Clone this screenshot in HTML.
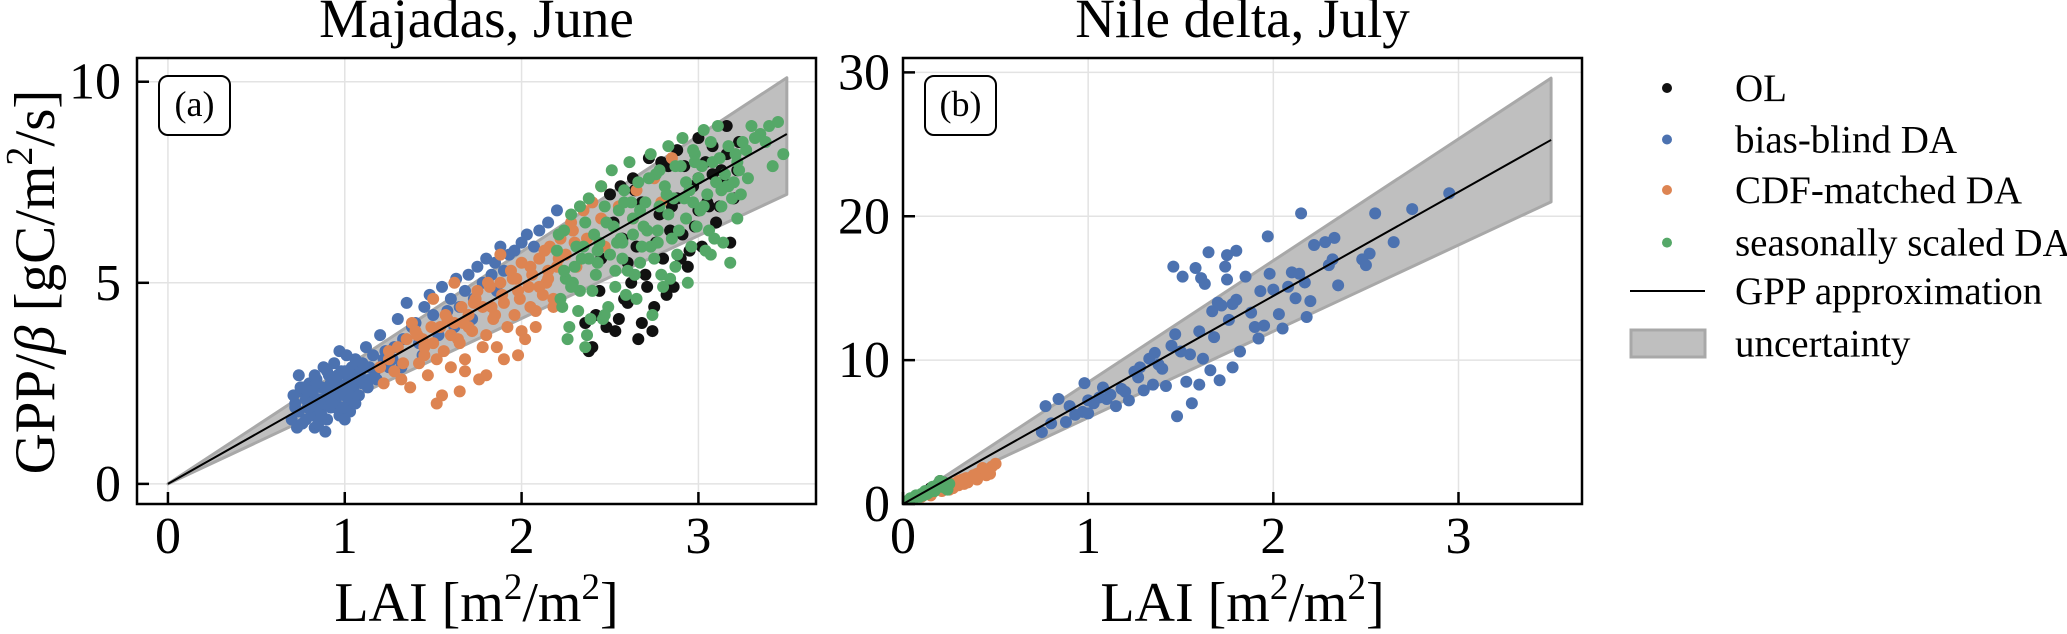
<!DOCTYPE html>
<html><head><meta charset="utf-8"><style>
html,body{margin:0;padding:0;background:#fff;}
svg{display:block;font-family:"Liberation Serif",serif;}
</style></head><body>
<svg id="fig" width="2067" height="634" viewBox="0 0 2067 634" xmlns="http://www.w3.org/2000/svg"></svg>
<script>
// ---- Data: panel (a) Majadas, June ----
const aBlueX=[0.70,0.72,0.74,0.75,0.76,0.78,0.79,0.80,0.81,0.82,0.83,0.84,0.85,0.86,0.87,0.88,0.89,0.90,0.91,0.92,0.93,0.94,0.95,0.96,0.97,0.98,0.99,1.00,1.01,1.02,1.03,1.04,1.05,1.06,1.08,1.10,
0.71,0.73,0.77,0.80,0.83,0.85,0.88,0.90,0.92,0.95,0.97,1.00,1.02,1.05,1.07,1.09,1.12,1.14,1.16,1.18,1.20,1.22,1.25,
1.28,1.30,1.33,1.35,1.38,1.40,1.42,1.45,1.48,1.50,1.53,1.55,1.58,1.60,1.63,1.65,1.68,1.70,1.73,1.75,1.78,1.80,1.83,1.85,1.88,1.90,1.93,1.96,2.00,2.03,2.07,2.10,2.15,2.20,1.32,1.44,1.62,1.72,1.86,
0.72,0.75,0.78,0.81,0.84,0.87,0.90,0.93,0.96,0.99,1.02,1.05,1.08,1.11,1.14,0.74,0.79,0.86,0.91,0.98,1.04,1.10,1.17,1.23,1.27,0.82,0.94,1.00,1.06,1.13];
const aBlueY=[1.6,2.0,1.8,2.3,1.5,2.1,1.9,2.5,1.7,2.2,1.4,2.6,2.0,1.8,2.4,2.9,1.3,2.2,2.7,1.9,2.3,3.0,2.1,2.5,1.7,2.8,2.4,2.2,3.2,2.6,1.8,2.9,2.4,3.1,2.7,2.5,
2.2,1.4,2.4,1.9,2.7,1.5,2.0,1.6,2.5,1.9,3.3,1.6,2.0,2.2,3.0,2.8,3.4,2.9,3.2,2.6,3.7,3.1,2.9,
3.4,4.1,3.6,4.5,3.9,4.0,3.5,4.4,4.7,4.2,3.7,4.9,4.3,4.6,5.1,4.4,4.8,5.2,4.6,5.4,5.0,5.6,5.2,5.5,5.9,5.3,5.7,5.8,6.0,6.2,5.9,6.3,6.5,6.8,2.9,3.2,3.9,4.1,4.8,
1.9,2.4,1.6,2.0,2.5,1.7,2.8,2.0,2.7,1.9,2.4,2.6,2.2,2.9,2.6,2.7,2.3,2.1,2.4,2.3,2.7,3.0,2.8,3.3,3.1,2.3,2.6,2.8,2.0,2.4];
const aOrangeX=[1.20,1.22,1.25,1.28,1.30,1.32,1.35,1.37,1.40,1.42,1.45,1.47,1.50,1.52,1.54,1.56,1.58,1.60,1.62,1.64,1.66,1.68,1.70,1.72,1.74,1.76,1.78,1.80,1.82,1.84,1.86,1.88,1.90,1.92,1.94,1.96,1.98,2.00,2.02,2.04,2.06,2.08,2.10,2.12,2.14,2.16,2.18,2.20,2.22,2.25,2.28,2.30,2.35,2.40,2.45,1.50,1.55,1.60,1.65,1.70,1.75,1.80,1.85,1.90,1.95,2.00,2.05,2.10,2.15,1.45,1.62,1.78,1.88,1.98,2.08,2.18,1.38,1.68,
1.25,1.33,1.41,1.49,1.57,1.65,1.73,1.81,1.89,1.97,2.05,2.13,2.21,2.29,2.37,2.45,2.55,2.65,2.75,2.85,1.52,1.67,1.83,1.99,2.15,2.31,2.47,2.63,2.79,1.44];
const aOrangeY=[2.9,2.5,3.1,2.8,3.4,2.6,3.6,2.4,3.8,3.0,3.2,2.7,3.5,2.0,3.9,3.3,4.1,2.9,4.0,3.6,4.4,3.1,4.2,3.8,4.6,2.6,4.4,3.7,4.9,4.1,3.4,5.0,4.5,3.9,5.3,4.2,4.8,5.5,3.6,4.9,5.2,4.3,5.6,4.7,5.0,5.9,4.4,5.4,6.1,5.7,6.5,6.0,6.8,7.0,7.4,4.6,2.2,3.7,2.3,3.9,4.8,2.7,4.2,3.1,5.1,3.8,4.4,4.9,5.3,3.4,5.0,3.4,5.7,3.2,3.9,4.6,4.0,2.8,
3.3,3.0,3.7,3.9,4.2,3.5,4.5,5.0,4.7,5.1,5.4,5.8,5.6,6.3,6.1,6.6,6.9,7.3,7.6,8.1,3.1,4.0,4.4,4.6,5.1,5.4,5.9,6.6,7.0,3.6];
const aGreenX=[2.20,2.22,2.24,2.25,2.27,2.28,2.30,2.32,2.33,2.35,2.36,2.38,2.40,2.41,2.43,2.45,2.46,2.48,2.50,2.51,2.53,2.55,2.56,2.58,2.60,2.61,2.63,2.65,2.66,2.68,2.70,2.71,2.73,2.75,2.76,2.78,2.80,2.81,2.83,2.85,2.86,2.88,2.90,2.91,2.93,2.95,2.96,2.98,3.00,3.01,3.03,3.05,3.06,3.08,3.10,3.11,3.13,3.15,3.17,3.19,3.21,3.23,3.25,3.28,3.30,3.35,3.40,3.45,3.48,
2.23,2.29,2.34,2.39,2.44,2.49,2.54,2.59,2.64,2.69,2.74,2.79,2.84,2.89,2.94,2.99,3.04,3.09,3.14,3.18,3.24,
2.26,2.37,2.47,2.57,2.67,2.77,2.87,2.97,3.07,3.16,3.22,
2.21,2.24,2.31,2.36,2.42,2.47,2.52,2.57,2.62,2.67,2.72,2.77,2.82,2.87,2.92,2.97,3.02,3.07,3.12,3.17,3.22,3.27,3.32,2.33,2.43,2.53,2.63,2.73,2.83,2.93,3.03,3.13,2.28,2.38,2.58,2.78,2.98,3.20,3.38,3.42];
const aGreenY=[5.8,4.6,6.3,5.1,3.9,6.7,5.4,4.3,6.9,5.9,3.4,7.1,4.8,6.2,5.5,7.4,4.1,6.5,5.7,7.8,4.9,6.8,6.1,7.3,5.3,8.0,6.6,4.6,7.5,5.9,7.0,6.3,8.2,5.6,7.7,6.9,4.9,7.4,8.4,6.1,7.1,5.7,7.9,8.6,6.6,7.3,5.9,8.2,7.6,6.8,8.8,7.2,6.3,8.0,7.5,8.9,6.9,7.7,8.4,7.1,8.2,7.8,8.5,7.6,8.9,8.7,8.9,9.0,8.2,
4.4,5.0,5.6,4.1,6.0,4.4,6.0,4.7,5.2,6.4,4.2,5.2,5.1,6.3,5.0,6.4,5.8,6.1,6.0,5.5,7.2,
3.6,3.7,4.2,6.0,5.5,6.0,5.4,7.0,5.7,7.4,6.6,
6.2,5.3,5.9,6.5,5.2,6.9,6.4,5.6,7.0,6.8,7.6,6.3,7.2,7.9,7.1,8.3,7.9,8.5,8.1,7.4,8.0,8.3,8.6,4.8,5.8,5.3,6.2,5.9,6.7,7.5,6.9,7.3,4.9,5.6,7.0,7.8,8.0,7.5,8.5,7.9];
const aBlackX=[2.38,2.42,2.45,2.50,2.53,2.57,2.60,2.63,2.66,2.70,2.72,2.75,2.78,2.80,2.83,2.86,2.88,2.91,2.94,2.97,3.00,3.02,3.05,3.08,3.10,3.13,3.16,3.20,3.23,2.48,2.55,2.62,2.68,2.74,2.82,2.90,2.98,3.06,3.14,2.40,2.65,2.85,3.00,3.18,2.58,
2.52,2.60,2.68,2.76,2.84,2.92,3.00,3.08,3.16,2.44,2.56,2.71,2.79,2.95,3.04,3.12,3.22,2.64,2.88,2.36];
const aBlackY=[3.3,4.2,5.6,7.2,3.8,6.1,4.5,7.6,3.6,5.2,8.1,4.4,6.7,5.6,7.9,4.9,8.3,6.2,5.4,7.4,8.6,5.9,7.0,8.4,6.5,7.8,8.9,7.1,8.5,3.9,4.1,5.0,4.0,3.8,4.7,5.6,6.4,6.9,7.5,3.4,5.9,6.9,7.6,6.0,4.6,
6.5,5.5,7.0,6.0,6.3,7.9,6.8,7.7,8.2,4.8,7.4,4.9,8.0,5.8,8.0,6.9,7.8,7.3,7.1,4.0];
const aSlope=2.486, aUpperEnd=10.1, aLowerEnd=7.2;
// ---- Data: panel (b) Nile delta, July ----
const bBlueX=[0.75,0.77,0.80,0.84,0.88,0.90,0.93,0.97,0.98,1.00,1.00,1.03,1.06,1.08,1.10,1.12,1.15,1.18,1.20,1.22,1.25,1.27,1.28,1.30,1.33,1.35,1.36,1.38,1.40,1.42,1.45,1.47,1.48,1.46,1.50,1.51,1.53,1.55,1.56,1.58,1.60,1.60,1.61,1.62,1.63,1.65,1.66,1.67,1.68,1.70,1.71,1.72,1.74,1.75,1.75,1.76,1.78,1.78,1.80,1.80,1.82,1.85,1.88,1.90,1.92,1.93,1.95,1.97,1.98,2.00,2.03,2.05,2.08,2.10,2.12,2.14,2.15,2.17,2.18,2.20,2.22,2.28,2.30,2.32,2.33,2.35,2.48,2.50,2.52,2.55,2.65,2.75,2.95];
const bBlueY=[5.0,6.8,5.6,7.3,5.7,6.8,6.2,6.4,8.4,6.3,7.2,7.0,7.4,8.1,7.3,7.6,6.8,8.0,7.8,7.2,9.2,8.8,9.5,7.9,10.1,8.3,10.5,9.7,9.4,8.2,11.0,11.8,6.1,16.5,10.6,15.8,8.5,10.4,7.0,16.4,8.3,12.0,15.7,10.1,15.3,17.5,9.3,13.4,11.6,14.0,8.6,13.8,16.5,17.3,15.6,12.8,9.5,13.9,17.6,14.2,10.6,15.8,13.3,12.3,11.5,14.8,12.4,18.6,16.0,14.9,13.2,12.2,15.1,16.1,14.3,16.0,20.2,15.4,13.0,14.1,18.0,18.2,16.6,17.0,18.5,15.2,17.0,16.6,17.4,20.2,18.2,20.5,21.6];
const bOrangeX=[0.10,0.13,0.16,0.18,0.20,0.22,0.24,0.26,0.28,0.30,0.32,0.34,0.36,0.38,0.40,0.42,0.44,0.46,0.48,0.50,0.25,0.30,0.35,0.40,0.45,0.15,0.21,0.27,0.33,0.39,0.43,0.47];
const bOrangeY=[0.5,0.7,0.8,1.0,1.0,1.1,1.3,1.4,1.4,1.6,1.7,1.8,1.8,2.0,2.1,2.2,2.3,2.4,2.6,2.8,1.0,1.3,1.5,1.7,2.0,0.6,0.9,1.1,1.4,1.9,2.5,2.1];
const bGreenX=[0.02,0.04,0.05,0.07,0.08,0.10,0.11,0.12,0.14,0.15,0.16,0.18,0.19,0.20,0.21,0.22,0.23,0.25,0.06,0.09,0.13,0.17,0.20,0.24];
const bGreenY=[0.2,0.4,0.3,0.6,0.5,0.7,0.6,0.9,0.8,1.0,1.2,1.1,1.4,1.3,1.2,1.5,1.1,1.4,0.4,0.5,0.7,0.9,1.6,1.0];
const bBlackX=[0.20,0.22,0.15];
const bBlackY=[1.6,1.5,1.1];
const bSlope=7.23, bUpperEnd=29.6, bLowerEnd=21.0;
const xTicks=[0,1,2,3];
const aYTicks=[0,5,10];
const bYTicks=[0,10,20,30];
const legendLabels=["OL","bias-blind DA","CDF-matched DA","seasonally scaled DA","GPP approximation","uncertainty"];

const C={black:"#111111",blue:"#4c72b0",orange:"#dd8452",green:"#55a868"};
const NS="http://www.w3.org/2000/svg";
const svg=document.getElementById('fig');
function mk(tag,attrs,parent){const e=document.createElementNS(NS,tag);for(const k in attrs)e.setAttribute(k,attrs[k]);(parent||svg).appendChild(e);return e;}

function panel(cfg){
  const {L,R,T,B,xmin,xmax,ymin,ymax,id}=cfg;
  const sx=v=>L+(v-xmin)/(xmax-xmin)*(R-L);
  const sy=v=>B-(v-ymin)/(ymax-ymin)*(B-T);
  const g=mk('g',{});
  
  
  const clipId='clip'+id;
  const cp=mk('clipPath',{id:clipId},g);mk('rect',{x:L,y:T,width:R-L,height:B-T},cp);
  xTicks.forEach(t=>{const l=mk('line',{x1:sx(t),x2:sx(t),y1:T,y2:B,stroke:'#e3e3e3','stroke-width':1.5},g);
    });
  cfg.yTicks.forEach(t=>{const l=mk('line',{x1:L,x2:R,y1:sy(t),y2:sy(t),stroke:'#e3e3e3','stroke-width':1.5},g);
    });
  const inner=mk('g',{'clip-path':'url(#'+clipId+')'},g);
  const band=mk('polygon',{points:`${sx(0)},${sy(0)} ${sx(3.5)},${sy(cfg.up)} ${sx(3.5)},${sy(cfg.lo)}`,fill:'#bfbfbf',stroke:'#a8a8a8','stroke-width':3,'stroke-linejoin':'round'},inner);
  
  
  cfg.series.forEach(s=>{
    const sg=mk('g',{fill:s.c},inner);
    
    
    s.x.forEach((xv,i)=>{const c=mk('circle',{cx:sx(xv),cy:sy(s.y[i]),r:6},sg);
      
      });
  });
  const ln=mk('line',{x1:sx(0),y1:sy(0),x2:sx(3.5),y2:sy(3.5*cfg.slope),stroke:'#000','stroke-width':2},inner);
  
  
  const fr=mk('rect',{x:L,y:T,width:R-L,height:B-T,fill:'none',stroke:'#000','stroke-width':2.5},g);
  
  
  xTicks.forEach(t=>{
    const tk=mk('line',{x1:sx(t),x2:sx(t),y1:B,y2:B-12,stroke:'#000','stroke-width':2.5},g);
    
    const tx=mk('text',{x:sx(t),y:553,'font-size':52,'text-anchor':'middle'},g);tx.textContent=t;
    
  });
  cfg.yTicks.forEach(t=>{
    const tk=mk('line',{x1:L,x2:L+12,y1:sy(t),y2:sy(t),stroke:'#000','stroke-width':2.5},g);
    
    const tx=mk('text',{x:cfg.ylx,y:sy(t)+17,'font-size':52,'text-anchor':'end'},g);tx.textContent=t;
    
  });
  const bx=mk('rect',{x:cfg.box,y:76,width:71,height:59,rx:9,fill:'#fff',stroke:'#000','stroke-width':2},g);
  
  const bt=mk('text',{x:cfg.box+35.5,y:116,'font-size':36,'text-anchor':'middle'},g);bt.textContent='('+id+')';
  
  const ti=mk('text',{x:(L+R)/2,y:37,'font-size':55,'text-anchor':'middle'},g);ti.textContent=cfg.title;
  
  const xl=mk('text',{x:(L+R)/2,y:621,'font-size':56,'text-anchor':'middle'},g);
  xl.innerHTML='LAI [m<tspan dy="-22" font-size="37">2</tspan><tspan dy="22">/m</tspan><tspan dy="-22" font-size="37">2</tspan><tspan dy="22">]</tspan>';
  
}

panel({id:'a',L:137,R:816,T:58,B:504,xmin:-0.175,xmax:3.665,ymin:-0.5,ymax:10.59,yTicks:aYTicks,ylx:121,box:159,
  title:'Majadas, June',slope:aSlope,up:aUpperEnd,lo:aLowerEnd,
  series:[{name:'ol',c:C.black,x:aBlackX,y:aBlackY},{name:'bias-blind',c:C.blue,x:aBlueX,y:aBlueY},
          {name:'cdf-matched',c:C.orange,x:aOrangeX,y:aOrangeY},{name:'seasonally-scaled',c:C.green,x:aGreenX,y:aGreenY}]});
panel({id:'b',L:903,R:1582,T:58,B:504,xmin:0,xmax:3.667,ymin:0,ymax:31.0,yTicks:bYTicks,ylx:890,box:925,
  title:'Nile delta, July',slope:bSlope,up:bUpperEnd,lo:bLowerEnd,
  series:[{name:'ol',c:C.black,x:bBlackX,y:bBlackY},{name:'bias-blind',c:C.blue,x:bBlueX,y:bBlueY},
          {name:'cdf-matched',c:C.orange,x:bOrangeX,y:bOrangeY},{name:'seasonally-scaled',c:C.green,x:bGreenX,y:bGreenY}]});

const yl=mk('text',{x:0,y:0,'font-size':57,'text-anchor':'middle',transform:'translate(54,282) rotate(-90)'});
yl.innerHTML='GPP/<tspan font-style="italic">β</tspan> [gC/m<tspan dy="-22" font-size="38">2</tspan><tspan dy="22">/s]</tspan>';



const lg=mk('g',{});


const rowsY=[88,139.5,190,242.6,291,343.7];
const mcols=[C.black,C.blue,C.orange,C.green];
legendLabels.forEach((lab,i)=>{
  const e=mk('g',{},lg);
  
  
  if(i<4) mk('circle',{cx:1667,cy:rowsY[i],r:5,fill:mcols[i]},e);
  else if(i===4) mk('line',{x1:1630,x2:1705,y1:rowsY[i],y2:rowsY[i],stroke:'#000','stroke-width':2},e);
  else mk('rect',{x:1631,y:330,width:74,height:27,fill:'#bfbfbf',stroke:'#a8a8a8','stroke-width':3},e);
  const t=mk('text',{x:1735,y:rowsY[i]+13,'font-size':39},e);t.textContent=lab;
});
</script>
</body></html>
